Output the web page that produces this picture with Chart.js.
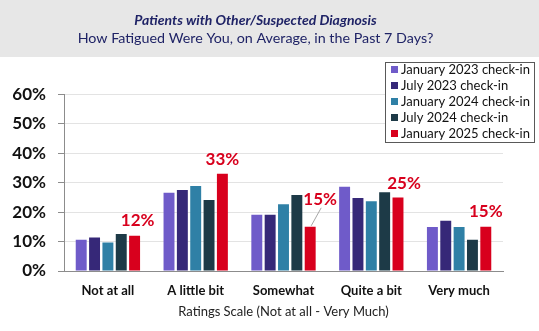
<!DOCTYPE html>
<html>
<head>
<meta charset="utf-8">
<script src="https://cdn.jsdelivr.net/npm/chart.js@4.4.1/dist/chart.umd.min.js"></script>
<style>
html,body{margin:0;padding:0;background:#fff;}
#wrap{width:539px;height:331px;position:relative;}
</style>
</head>
<body>
<div id="wrap"><canvas id="c" width="539" height="331"></canvas></div>
<script>
const categories = ["Not at all", "A little bit", "Somewhat", "Quite a bit", "Very much"];
const seriesNames = ["January 2023 check-in", "July 2023 check-in", "January 2024 check-in", "July 2024 check-in", "January 2025 check-in"];
const jan2023 = [10.6, 26.6, 19.1, 28.6, 14.9];
const jul2023 = [11.4, 27.5, 19.1, 24.8, 17.1];
const jan2024 = [9.7, 28.9, 22.7, 23.7, 14.9];
const jul2024 = [12.6, 24.1, 25.8, 26.7, 10.6];
const jan2025 = [12, 33, 15, 25, 15];
const yTicks = [0, 10, 20, 30, 40, 50, 60];
const titleText = "Patients with Other/Suspected Diagnosis";
const subtitleText = "How Fatigued Were You, on Average, in the Past 7 Days?";
const xAxisTitle = "Ratings Scale (Not at all - Very Much)";

const colors = ["#6f5bc9", "#362878", "#2f80a6", "#1d3a47", "#d8001d"];
const allSeries = [jan2023, jul2023, jan2024, jul2024, jan2025];
const FONT = "Lato, 'Open Sans', sans-serif";

const bandPlugin = {
  id: 'band',
  beforeDraw(chart) {
    const ctx = chart.ctx;
    ctx.save();
    ctx.fillStyle = '#ffffff';
    ctx.fillRect(0, 0, chart.width, chart.height);
    ctx.fillStyle = '#e7e7e7';
    ctx.fillRect(0, 0, chart.width, 57);
    ctx.restore();
  }
};

const legendPlugin = {
  id: 'boxLegend',
  afterDraw(chart) {
    const ctx = chart.ctx;
    const x0 = 385.5, y0 = 62.5, w = 149, h = 80;
    ctx.save();
    ctx.fillStyle = '#ffffff';
    ctx.fillRect(x0, y0, w, h);
    ctx.strokeStyle = '#595959';
    ctx.lineWidth = 1;
    ctx.strokeRect(x0, y0, w, h);
    ctx.font = "13px " + FONT;
    ctx.textBaseline = 'middle';
    ctx.textAlign = 'left';
    chart.data.datasets.forEach((ds, i) => {
      const cy = 69.5 + i * 16;
      ctx.fillStyle = ds.backgroundColor;
      ctx.fillRect(391, cy - 3.5, 7, 7);
      ctx.fillStyle = '#111111';
      ctx.fillText(ds.label, 401, cy + 0.5);
    });
    ctx.restore();
  }
};

const labelPlugin = {
  id: 'redLabels',
  afterDatasetsDraw(chart, args, opts) {
    const ctx = chart.ctx;
    const di = chart.data.datasets.length - 1;
    const meta = chart.getDatasetMeta(di);
    const data = chart.data.datasets[di].data;
    ctx.save();
    ctx.font = "bold 17px " + FONT;
    ctx.fillStyle = '#d8001d';
    ctx.textAlign = 'center';
    ctx.textBaseline = 'middle';
    meta.data.forEach((bar, i) => {
      const dx = opts.dx[i] || 0, dy = opts.dy[i] || 0;
      const lx = bar.x + dx, ly = bar.y - 15 + dy;
      if (opts.leader[i]) {
        ctx.strokeStyle = '#a6a6a6';
        ctx.lineWidth = 1;
        ctx.beginPath();
        ctx.moveTo(bar.x + 1, bar.y - 1);
        ctx.lineTo(lx + 1, ly + 8);
        ctx.stroke();
      }
      ctx.fillText(Math.round(data[i]) + '%', lx, ly);
    });
    ctx.restore();
  }
};

new Chart(document.getElementById('c'), {
  type: 'bar',
  data: {
    labels: categories,
    datasets: allSeries.map((d, i) => ({
      label: seriesNames[i],
      data: d,
      backgroundColor: colors[i],
      borderWidth: 0,
      categoryPercentage: 0.76,
      barPercentage: 0.82
    }))
  },
  options: {
    responsive: false,
    animation: false,
    devicePixelRatio: 1,
    layout: { padding: { left: 8, right: 36, top: 0, bottom: 0 } },
    plugins: {
      legend: { display: false },
      tooltip: { enabled: false },
      title: {
        display: true,
        text: titleText,
        color: '#1f2366',
        font: { family: FONT, size: 14, weight: 'bold', style: 'italic', lineHeight: 1 },
        padding: { top: 13, bottom: 4 }
      },
      subtitle: {
        display: true,
        text: subtitleText,
        color: '#1f2366',
        font: { family: FONT, size: 14.3, lineHeight: 1 },
        padding: { top: 0, bottom: 49 }
      },
      redLabels: {
        dx: [3, 0, 10, 6, 0],
        dy: [0, 1, -12, 1, 0],
        leader: [false, false, true, false, false]
      }
    },
    scales: {
      x: {
        grid: { display: false, drawTicks: false },
        border: { display: true, color: '#8c8c8c', width: 1 },
        ticks: { color: '#111', font: { family: FONT, size: 13, weight: 'bold' }, padding: 12 },
        title: {
          display: true,
          text: xAxisTitle,
          color: '#222',
          font: { family: FONT, size: 13 },
          padding: { top: 11.5, bottom: 11.5 }
        },
        afterFit(s) { s.height = 60; }
      },
      y: {
        min: 0,
        max: 60,
        afterBuildTicks(s) { s.ticks = yTicks.map(v => ({ value: v })); },
        grid: { color: '#e3e3e3', tickColor: '#8c8c8c', tickLength: 6, lineWidth: 1 },
        border: { display: true, color: '#8c8c8c', width: 1 },
        ticks: {
          color: '#111',
          font: { family: FONT, size: 17, weight: 'bold' },
          padding: 12,
          callback: v => v + '%'
        },
        afterFit(s) { s.width = 56; }
      }
    }
  },
  plugins: [bandPlugin, labelPlugin, legendPlugin]
});
</script>
</body>
</html>
